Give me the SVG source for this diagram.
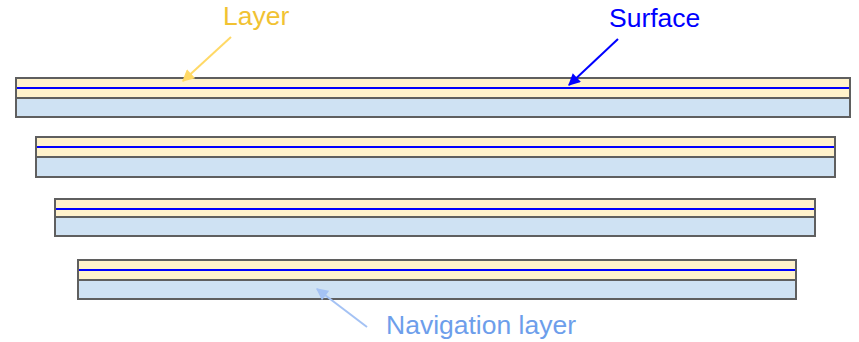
<svg xmlns="http://www.w3.org/2000/svg" width="859" height="342" viewBox="0 0 859 342">
  <defs>
    <marker id="headYellow" viewBox="0 0 10 10" refX="9" refY="5" markerWidth="6.5" markerHeight="6" orient="auto" markerUnits="strokeWidth">
      <path d="M0,0 L10,5 L0,10 z" fill="#ffd966"/>
    </marker>
    <marker id="headBlue" viewBox="0 0 10 10" refX="9" refY="5" markerWidth="6.5" markerHeight="6" orient="auto" markerUnits="strokeWidth">
      <path d="M0,0 L10,5 L0,10 z" fill="#0000ff"/>
    </marker>
    <marker id="headNav" viewBox="0 0 10 10" refX="9" refY="5" markerWidth="6.5" markerHeight="6" orient="auto" markerUnits="strokeWidth">
      <path d="M0,0 L10,5 L0,10 z" fill="#a4c2f4"/>
    </marker>
  </defs>
  <style>
    .layer { fill: #fff2cc; stroke: #5f5f5f; stroke-width: 2; }
    .nav { fill: #cfe2f3; stroke: #5f5f5f; stroke-width: 2; }
    .surface { stroke: #0000ff; stroke-width: 2; }
    .label { font-family: "Liberation Sans", Arial, sans-serif; font-size: 26.5px; }
  </style>
  <rect width="859" height="342" fill="#ffffff"/>

  <g id="stack1">
    <rect class="nav" x="16" y="98" width="834" height="19"/>
    <rect class="layer" x="16" y="78" width="834" height="20"/>
    <line class="surface" x1="17" y1="88" x2="849" y2="88"/>
  </g>
  <g id="stack2">
    <rect class="nav" x="36" y="157" width="799" height="20"/>
    <rect class="layer" x="36" y="137" width="799" height="20"/>
    <line class="surface" x1="37" y1="147" x2="834" y2="147"/>
  </g>
  <g id="stack3">
    <rect class="nav" x="55" y="217" width="760" height="19"/>
    <rect class="layer" x="55" y="199" width="760" height="18"/>
    <line class="surface" x1="56" y1="209" x2="814" y2="209"/>
  </g>
  <g id="stack4">
    <rect class="nav" x="78" y="280" width="718" height="19"/>
    <rect class="layer" x="78" y="260" width="718" height="20"/>
    <line class="surface" x1="79" y1="270" x2="795" y2="270"/>
  </g>

  <g id="label-layer">
    <text class="label" x="223" y="25" fill="#f1c232">Layer</text>
  </g>
  <g id="label-surface">
    <text class="label" x="609" y="27" fill="#0000ff">Surface</text>
  </g>
  <g id="label-navigation">
    <text class="label" x="386" y="334" fill="#6d9eeb">Navigation layer</text>
  </g>

  <g id="connectors" fill="none" stroke-width="2">
    <line x1="231" y1="37" x2="183" y2="81" stroke="#ffd966" marker-end="url(#headYellow)"/>
    <line x1="618" y1="39" x2="569" y2="85" stroke="#0000ff" marker-end="url(#headBlue)"/>
    <line x1="367" y1="327" x2="317" y2="289" stroke="#a4c2f4" marker-end="url(#headNav)"/>
  </g>
</svg>
